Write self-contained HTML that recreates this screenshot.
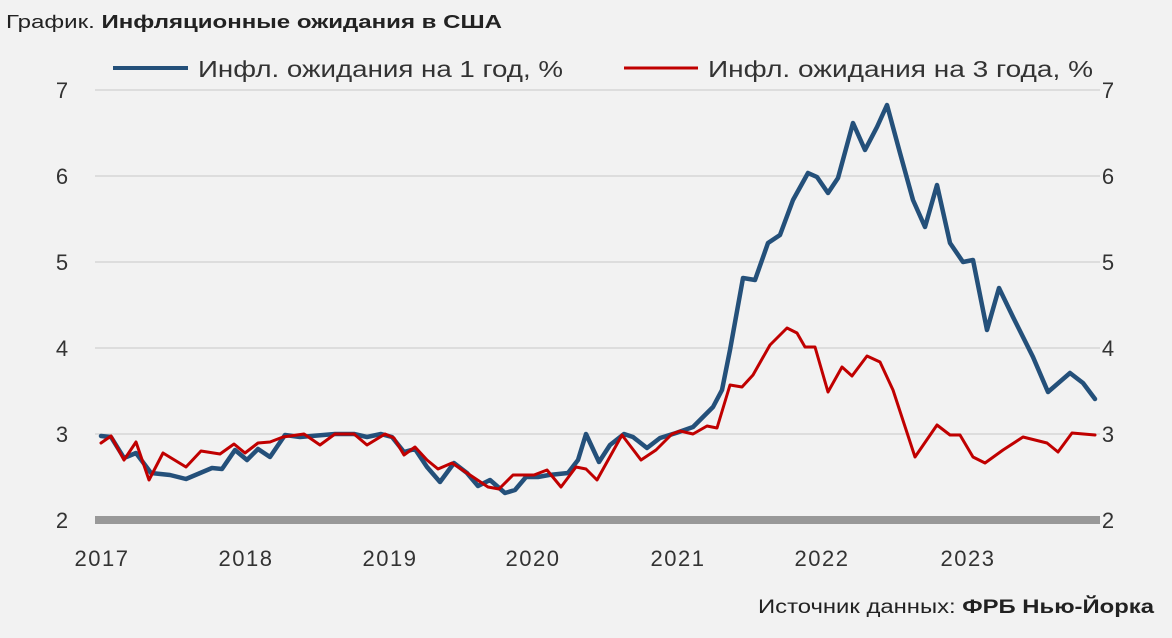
<!DOCTYPE html>
<html><head><meta charset="utf-8"><style>
body{margin:0;background:#f2f2f2;}
svg{display:block;font-family:"Liberation Sans",sans-serif;}
</style></head><body>
<svg width="1172" height="638" viewBox="0 0 1172 638">
<rect width="1172" height="638" fill="#f2f2f2"/>
<text x="6" y="28" font-size="18" fill="#222" textLength="496" lengthAdjust="spacingAndGlyphs">График. <tspan font-weight="bold">Инфляционные ожидания в США</tspan></text>
<line x1="113" y1="68" x2="188" y2="68" stroke="#24507a" stroke-width="4"/>
<text x="198" y="77" font-size="23" fill="#333" textLength="365" lengthAdjust="spacingAndGlyphs">Инфл. ожидания на 1 год, %</text>
<line x1="624" y1="68" x2="698" y2="68" stroke="#c00000" stroke-width="3"/>
<text x="708" y="77" font-size="23" fill="#333" textLength="385" lengthAdjust="spacingAndGlyphs">Инфл. ожидания на 3 года, %</text>
<g stroke="#dddddd" stroke-width="2">
<line x1="95" y1="90" x2="1100" y2="90"/><line x1="95" y1="176" x2="1100" y2="176"/>
<line x1="95" y1="262" x2="1100" y2="262"/><line x1="95" y1="348" x2="1100" y2="348"/>
<line x1="95" y1="434" x2="1100" y2="434"/></g>
<g font-size="22" fill="#333" text-anchor="middle">
<text x="62" y="98">7</text><text x="62" y="184">6</text><text x="62" y="270">5</text><text x="62" y="356">4</text><text x="62" y="442">3</text><text x="62" y="528">2</text>
<text x="1108" y="98">7</text><text x="1108" y="184">6</text><text x="1108" y="270">5</text><text x="1108" y="356">4</text><text x="1108" y="442">3</text><text x="1108" y="528">2</text>
</g>
<g font-size="22" fill="#333" text-anchor="middle" letter-spacing="1.5">
<text x="102" y="566">2017</text><text x="246" y="566">2018</text><text x="390" y="566">2019</text><text x="533" y="566">2020</text><text x="678" y="566">2021</text><text x="822" y="566">2022</text><text x="968" y="566">2023</text>
</g>
<polyline fill="none" stroke="#24507a" stroke-width="4.5" stroke-linejoin="round" stroke-linecap="round" points="101,436 111,437 124,458 136,453 151,473 170,475 186,479 212,468 222,469 235,450 247,460 258,449 270,457 285,435 300,437 335,434 354,434 367,437 381,434 392,437 404,452 415,449 427,467 440,482 454,463 467,473 478,486 490,480 505,493 515,490 526,477 538,477 549,475 568,473 578,460 586,434 599,462 610,445 624,434 633,437 647,448 660,438 676,433 693,427 713,407 722,390 730,350 743,278 755,280 768,243 780,235 793,200 808,173 817,177 828,193 838,178 853,123 865,150 877,127 887,105 900,153 913,200 925,227 937,185 950,243 963,262 973,260 987,330 999,288 1013,317 1033,357 1048,392 1070,373 1083,383 1095,399"/>
<polyline fill="none" stroke="#c00000" stroke-width="3" stroke-linejoin="round" stroke-linecap="round" points="101,443 111,436 124,460 136,442 149,480 163,453 186,467 201,451 220,454 234,444 245,453 258,443 270,442 283,437 304,434 320,445 335,434 354,434 367,445 385,434 394,438 404,455 415,447 427,460 438,469 452,463 473,477 488,487 499,489 513,475 534,475 547,470 561,487 576,467 586,469 597,480 622,435 641,460 656,450 672,434 680,431 693,434 707,426 717,428 730,385 742,387 753,375 770,345 787,328 797,333 805,347 815,347 828,392 842,367 852,376 867,356 880,362 893,390 915,457 937,425 950,435 960,435 973,457 985,463 1003,450 1023,437 1047,443 1058,452 1072,433 1095,435"/>
<rect x="95" y="516" width="1005" height="8" fill="#999"/>
<text x="758" y="613" font-size="19" fill="#222" textLength="396" lengthAdjust="spacingAndGlyphs">Источник данных: <tspan font-weight="bold">ФРБ Нью-Йорка</tspan></text>
</svg>
</body></html>
